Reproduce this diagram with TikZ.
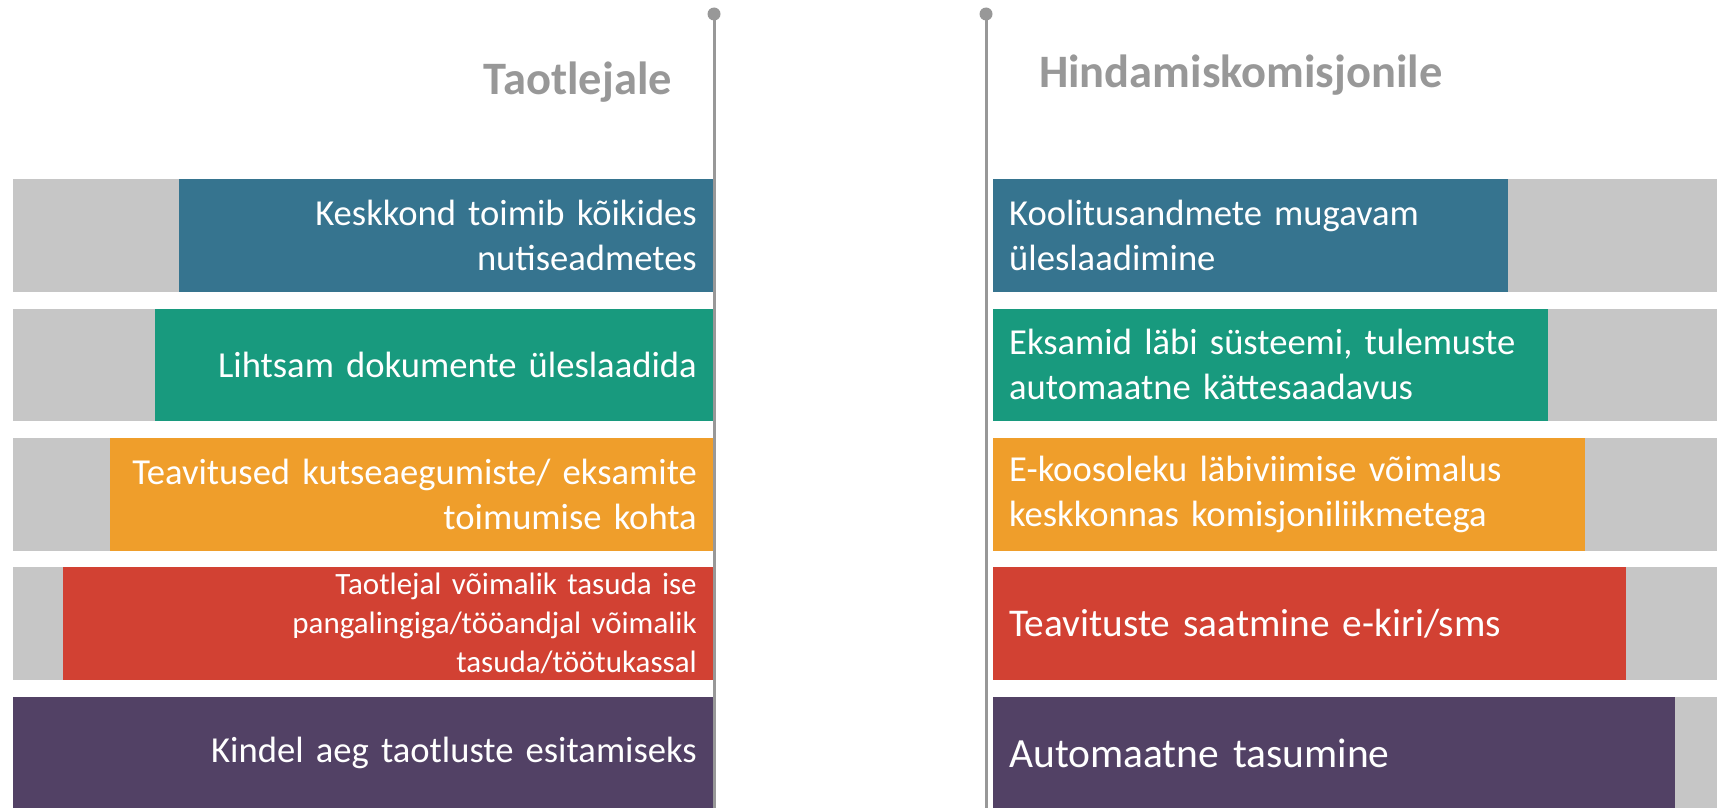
\documentclass[tikz,border=0pt]{standalone}
\usepackage{fontspec}
\setmainfont{Carlito}
\definecolor{cblue}{RGB}{54,116,143}
\definecolor{cgreen}{RGB}{24,154,126}
\definecolor{corange}{RGB}{239,158,43}
\definecolor{cred}{RGB}{210,65,51}
\definecolor{cpurple}{RGB}{82,65,101}
\definecolor{cgray}{RGB}{198,198,198}
\definecolor{cline}{RGB}{152,152,152}
\begin{document}
\begin{tikzpicture}[x=1pt,y=-1pt,
  bar/.style={rectangle, inner sep=0pt, minimum height=112.7pt, draw=none, text=white},
  graybar/.style={bar, fill=cgray},
  lbar/.style 2 args={bar, fill=#1, anchor=north east, minimum width=#2, text width=#2-32pt, inner xsep=16pt, align=right},
  rbar/.style 2 args={bar, fill=#1, anchor=north west, minimum width=#2, text width=#2-32pt, inner xsep=16pt, align=left},
  fmain/.style={font=\fontsize{36.6}{45}\selectfont},
  fsmall/.style={font=\fontsize{31}{39}\selectfont},
  fbig/.style={font=\fontsize{39.3}{48}\selectfont},
  fbigger/.style={font=\fontsize{41.5}{50}\selectfont},
  title/.style={text=cline, font=\fontsize{46.5}{54}\selectfont\bfseries, inner sep=0pt},
  dot/.style={circle, fill=cline, inner sep=0pt, minimum size=13pt},
  vline/.style={draw=cline, line width=3pt}
]
\useasboundingbox (0,0) rectangle (1717,808);
% left gray
\node[graybar, anchor=north west, minimum width=700pt] (lg1) at (13,179) {};
\node[graybar, anchor=north west, minimum width=700pt] (lg2) at (13,308.3) {};
\node[graybar, anchor=north west, minimum width=700pt] (lg3) at (13,437.7) {};
\node[graybar, anchor=north west, minimum width=700pt] (lg4) at (13,567) {};
% right gray
\node[graybar, anchor=north west, minimum width=724pt] (rg1) at (993,179) {};
\node[graybar, anchor=north west, minimum width=724pt] (rg2) at (993,308.3) {};
\node[graybar, anchor=north west, minimum width=724pt] (rg3) at (993,437.7) {};
\node[graybar, anchor=north west, minimum width=724pt] (rg4) at (993,567) {};
\node[graybar, anchor=north west, minimum width=724pt] (rg5) at (993,696.5) {};
% left colored
\node[lbar={cblue}{534pt}, fmain] (l1) at (713,179) {Keskkond toimib kõikides\\nutiseadmetes};
\node[lbar={cgreen}{558pt}, fmain] (l2) at (713,308.3) {Lihtsam dokumente üleslaadida};
\node[lbar={corange}{603pt}, fmain] (l3) at (713,437.7) {Teavitused kutseaegumiste/ eksamite\\toimumise kohta};
\node[lbar={cred}{650pt}, fsmall] (l4) at (713,567) {Taotlejal võimalik tasuda ise\\pangalingiga/tööandjal võimalik\\tasuda/töötukassal};
\node[lbar={cpurple}{700pt}, fmain] (l5) at (713,696.5) {Kindel aeg taotluste esitamiseks};
% right colored
\node[rbar={cblue}{515pt}, fmain] (r1) at (993,179) {Koolitusandmete mugavam\\üleslaadimine};
\node[rbar={cgreen}{555pt}, fmain] (r2) at (993,308.3) {Eksamid läbi süsteemi, tulemuste\\automaatne kättesaadavus};
\node[rbar={corange}{592pt}, fmain] (r3) at (993,437.7) {E-koosoleku läbiviimise võimalus\\keskkonnas komisjoniliikmetega};
\node[rbar={cred}{633pt}, fbig] (r4) at (993,567) {Teavituste saatmine e-kiri/sms};
\node[rbar={cpurple}{682pt}, fbigger] (r5) at (993,696.5) {Automaatne tasumine};
% titles
\node[title, anchor=base east] (t1) at (672,95) {Taotlejale};
\node[title, anchor=base west] (t2) at (1039,88) {Hindamiskomisjonile};
% vertical lines
\node[dot] (d1) at (714,14) {};
\node[dot] (d2) at (986,14) {};
\coordinate (e1) at (714,808);
\coordinate (e2) at (986,808);
\draw[vline] (d1.center) -- (e1);
\draw[vline] (d2.center) -- (e2);
\end{tikzpicture}
\end{document}
